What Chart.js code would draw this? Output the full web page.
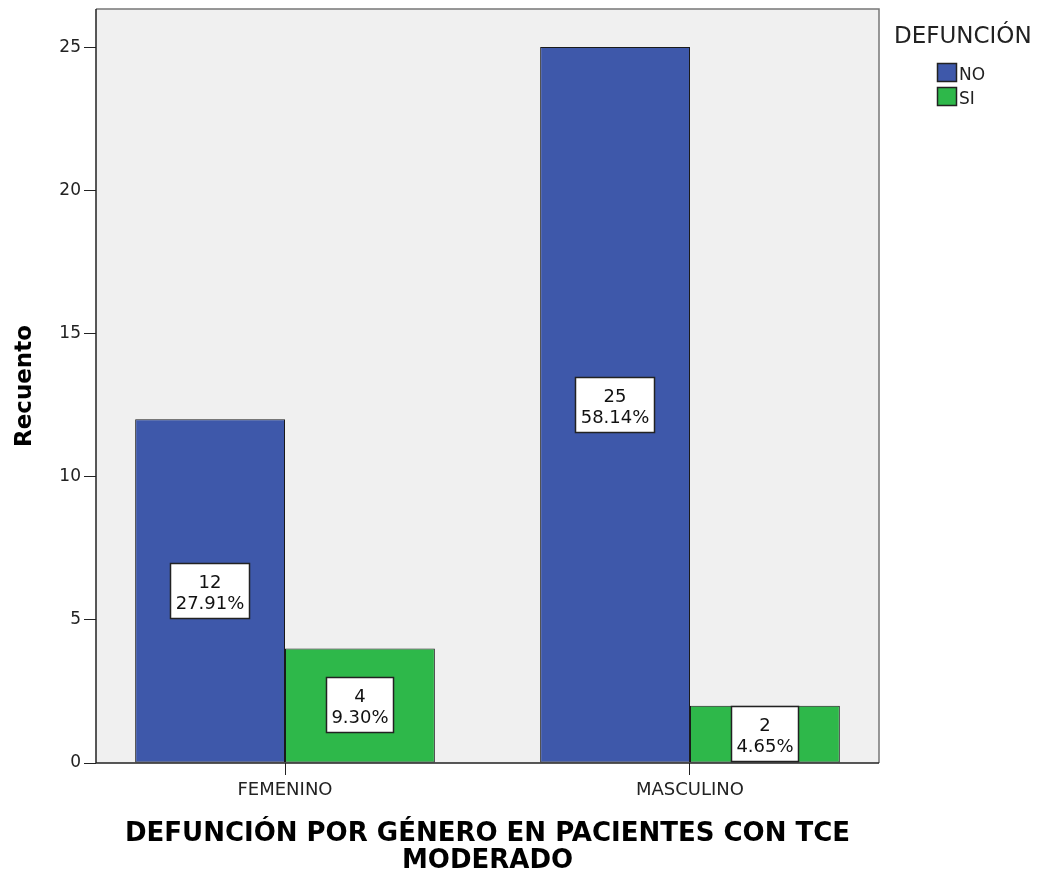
<!DOCTYPE html>
<html>
<head>
<meta charset="utf-8">
<script src="https://cdn.jsdelivr.net/npm/chart.js@4.4.1/dist/chart.umd.min.js"></script>
<style>
  body { margin: 0; background: #fff; }
  canvas { display: block; }
</style>
</head>
<body>
<canvas id="chart" width="1041" height="878"></canvas>
<script>
// data
const categories = ['FEMENINO', 'MASCULINO'];
const seriesNames = ['NO', 'SI'];
const noCounts = [12, 25];
const siCounts = [4, 2];
const yTicks = [0, 5, 10, 15, 20, 25];
const legendTitle = 'DEFUNCIÓN';
const xTitle = ['DEFUNCIÓN POR GÉNERO EN PACIENTES CON TCE', 'MODERADO'];
const yTitle = 'Recuento';

const total = [...noCounts, ...siCounts].reduce((a, b) => a + b, 0);
const family = "'DejaVu Sans', sans-serif";

// grey plot background + frame
const plotBox = {
  id: 'plotBox',
  beforeDatasetsDraw(chart) {
    const { ctx, chartArea: a } = chart;
    ctx.save();
    ctx.fillStyle = '#f0f0f0';
    ctx.fillRect(a.left, a.top, a.width, a.height);
    ctx.restore();
  },
  afterDraw(chart) {
    const { ctx, chartArea: a } = chart;
    ctx.save();
    ctx.lineWidth = 1.5;
    ctx.strokeStyle = '#777';
    ctx.beginPath();
    ctx.moveTo(a.left, a.top);
    ctx.lineTo(a.right, a.top);
    ctx.lineTo(a.right, a.bottom);
    ctx.stroke();
    ctx.strokeStyle = '#222';
    ctx.beginPath();
    ctx.moveTo(a.left, a.top);
    ctx.lineTo(a.left, a.bottom);
    ctx.lineTo(a.right, a.bottom);
    ctx.stroke();
    ctx.restore();
  }
};

// count + percent boxes in the middle of each bar
const barLabels = {
  id: 'barLabels',
  afterDatasetsDraw(chart) {
    const ctx = chart.ctx;
    ctx.save();
    ctx.font = '18px ' + family;
    chart.data.datasets.forEach((ds, di) => {
      chart.getDatasetMeta(di).data.forEach((bar, i) => {
        const v = ds.data[i].y;
        const lines = [String(v), (v / total * 100).toFixed(2) + '%'];
        const w = Math.round(Math.max(...lines.map(t => ctx.measureText(t).width)) + 10);
        const h = 55;
        const cx = Math.round(bar.x);
        const cy = Math.round((bar.y + bar.base) / 2);
        const x0 = cx - Math.round(w / 2);
        const y0 = cy - Math.round(h / 2);
        ctx.fillStyle = '#fff';
        ctx.fillRect(x0, y0, w, h);
        ctx.strokeStyle = '#222';
        ctx.lineWidth = 1.5;
        ctx.strokeRect(x0 + 0.5, y0 + 0.5, w, h);
        ctx.fillStyle = '#111';
        ctx.textAlign = 'center';
        ctx.textBaseline = 'alphabetic';
        ctx.fillText(lines[0], cx, cy - 3);
        ctx.fillText(lines[1], cx, cy + 18);
      });
    });
    ctx.restore();
  }
};

// legend at the top right, like SPSS
const sideLegend = {
  id: 'sideLegend',
  afterDraw(chart) {
    const ctx = chart.ctx;
    ctx.save();
    ctx.fillStyle = '#222';
    ctx.textAlign = 'left';
    ctx.textBaseline = 'alphabetic';
    ctx.font = '23px ' + family;
    ctx.fillText(legendTitle, 894, 43);
    ctx.font = '17px ' + family;
    chart.data.datasets.forEach((ds, i) => {
      const y = 63 + i * 24;
      ctx.fillStyle = ds.backgroundColor;
      ctx.fillRect(937, y, 20, 19);
      ctx.strokeStyle = '#222';
      ctx.lineWidth = 1.5;
      ctx.strokeRect(937.5, y + 0.5, 19, 18);
      ctx.fillStyle = '#222';
      ctx.fillText(ds.label, 959, y + 17);
    });
    ctx.restore();
  }
};

const chart = new Chart(document.getElementById('chart'), {
  type: 'bar',
  data: {
    datasets: [
      {
        label: seriesNames[0],
        data: noCounts.map((v, i) => ({ x: i, y: v })),
        backgroundColor: '#3e58aa',
      },
      {
        label: seriesNames[1],
        data: siCounts.map((v, i) => ({ x: i, y: v })),
        backgroundColor: '#2eb84a',
      },
    ],
  },
  options: {
    responsive: false,
    animation: false,
    devicePixelRatio: 1,
    layout: { padding: { top: 9, right: 162, bottom: 0, left: 0 } },
    datasets: {
      bar: {
        categoryPercentage: 0.74,
        barPercentage: 1,
        borderWidth: 1,
        borderColor: '#1a1a1a',
        borderSkipped: false,
      },
    },
    plugins: {
      legend: { display: false },
      tooltip: { enabled: false },
    },
    scales: {
      x: {
        type: 'linear',
        offset: false,
        min: -0.4667,
        max: 1.4667,
        afterBuildTicks: s => { s.ticks = categories.map((c, i) => ({ value: i })); },
        afterFit: s => { s.height = 115; },
        grid: { offset: false, drawOnChartArea: false, tickLength: 12, color: '#222' },
        border: { display: false },
        ticks: {
          callback: v => categories[v] ?? '',
          font: { family, size: 18 },
          color: '#222',
          padding: 5,
          maxRotation: 0,
          autoSkip: false,
        },
        title: {
          display: true,
          text: xTitle,
          font: { family, size: 26, weight: 'bold', lineHeight: 1.04 },
          color: '#000',
          padding: { top: 0, bottom: 3 },
        },
      },
      y: {
        min: 0,
        max: 26.33,
        afterBuildTicks: s => { s.ticks = yTicks.map(v => ({ value: v })); },
        afterFit: s => { s.width = 96; s.paddingTop = 0; s.paddingBottom = 0; },
        grid: { drawOnChartArea: false, tickLength: 12, color: '#222' },
        border: { display: false },
        ticks: { font: { family, size: 17 }, color: '#222', padding: 3 },
        title: {
          display: true,
          text: yTitle,
          font: { family, size: 23, weight: 'bold' },
          color: '#000',
          padding: { top: 11, bottom: 0 },
        },
      },
    },
  },
  plugins: [plotBox, barLabels, sideLegend],
});
</script>
</body>
</html>
